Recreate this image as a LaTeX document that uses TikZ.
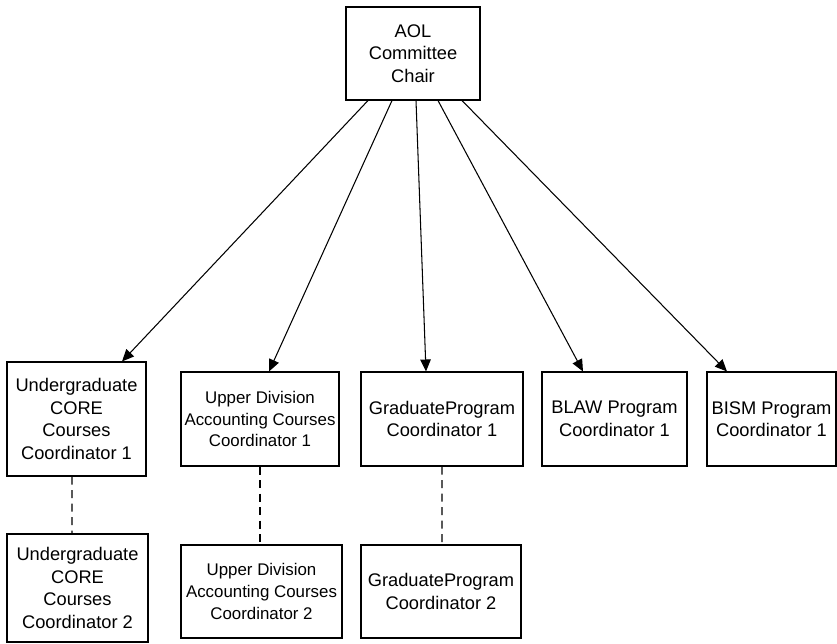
\documentclass[tikz,border=0pt]{standalone}
\usepackage{fontspec}
\setmainfont{Liberation Sans}
\usetikzlibrary{arrows.meta,positioning,calc}
\tikzset{
  box/.style={draw, line width=0.6pt, align=center, inner sep=1pt,
    font=\fontsize{10.4}{12.8}\selectfont},
  smallbox/.style={box, font=\fontsize{9.6}{12.4}\selectfont},
  pre/.style={-{Triangle[length=2.4mm, width=2.1mm]}, line width=0.6pt},
  link/.style={line width=0.6pt, dash pattern=on 1.6mm off 1.1mm},
}
\begin{document}
\begin{tikzpicture}[x=1cm,y=1cm]
\useasboundingbox (0,0) rectangle (16.74,-12.88);
% top
\node[box, minimum width=2.68cm, minimum height=1.86cm] (chair) at (8.26,-1.07) {AOL\\Committee\\Chair};
% first row
\node[box, minimum width=2.78cm, minimum height=2.28cm] (core1) at (1.53,-8.38) {Undergraduate\\CORE\\Courses\\Coordinator 1};
\node[smallbox, minimum width=3.16cm, minimum height=1.88cm] (upper1) at (5.20,-8.38) {Upper Division\\Accounting Courses\\Coordinator 1};
\node[box, minimum width=3.24cm, minimum height=1.88cm] (grad1) at (8.84,-8.38) {GraduateProgram\\Coordinator 1};
\node[box, minimum width=2.90cm, minimum height=1.88cm] (blaw1) at (12.29,-8.38) {BLAW Program\\Coordinator 1};
\node[box, minimum width=2.58cm, minimum height=1.88cm] (bism1) at (15.43,-8.38) {BISM Program\\Coordinator 1};
% second row
\node[box, minimum width=2.82cm, minimum height=2.16cm] (core2) at (1.55,-11.76) {Undergraduate\\CORE\\Courses\\Coordinator 2};
\node[smallbox, minimum width=3.22cm, minimum height=1.86cm] (upper2) at (5.23,-11.83) {Upper Division\\Accounting Courses\\Coordinator 2};
\node[box, minimum width=3.20cm, minimum height=1.86cm] (grad2) at (8.82,-11.83) {GraduateProgram\\Coordinator 2};
% arrows from the chair
\foreach \to/\from/\into in {core1/-0.90/0.91, upper1/-0.42/0.18, grad1/0.06/-0.32, blaw1/0.50/-0.63, bism1/0.98/-0.89}
  \draw[pre] ([xshift=\from cm]chair.south) -- ([xshift=\into cm]\to.north);
% dashed links
\draw[link] ([xshift=-0.09cm]core1.south) -- ([xshift=-0.11cm]core2.north);
\draw[link] (upper1.south) -- ([xshift=-0.03cm]upper2.north);
\draw[link] (grad1.south) -- ([xshift=0.02cm]grad2.north);
\end{tikzpicture}
\end{document}
